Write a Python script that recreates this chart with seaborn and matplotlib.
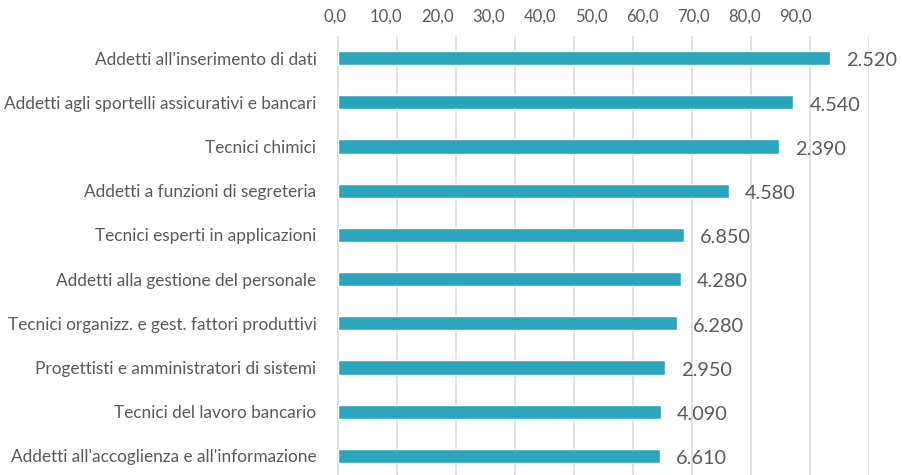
"""
Occupations ranked by share, horizontal bar chart with value labels.
"""

import matplotlib
matplotlib.use("Agg")
import matplotlib.pyplot as plt
import pandas as pd
import seaborn as sns

# -- Data ------------------------------------------------------------------
categories = [
    "Addetti all'inserimento di dati",
    "Addetti agli sportelli assicurativi e bancari",
    "Tecnici chimici",
    "Addetti a funzioni di segreteria",
    "Tecnici esperti in applicazioni",
    "Addetti alla gestione del personale",
    "Tecnici organizz. e gest. fattori produttivi",
    "Progettisti e amministratori di sistemi",
    "Tecnici del lavoro bancario",
    "Addetti all'accoglienza e all'informazione",
]
values = [83.4, 77.2, 74.7, 66.3, 58.7, 58.1, 57.5, 55.5, 54.7, 54.5]
bar_labels = ["2.520", "4.540", "2.390", "4.580", "6.850",
              "4.280", "6.280", "2.950", "4.090", "6.610"]
tick_values = list(range(0, 100, 10))

BAR = "#2CA5BC"
TEXT = "#595959"
GRID = "#D9D9D9"

sns.set_theme(style="white")
plt.rcParams["font.family"] = ["Lato", "DejaVu Sans"]
plt.rcParams["xtick.major.size"] = 0
plt.rcParams["ytick.major.size"] = 0

df = pd.DataFrame({"categoria": categories, "valore": values})

X0, X1 = -0.6, 90.0          # view limits, a bit left of 0 for the "0,0" label
PX_PER_UNIT = (869 - 338) / 90
left_px = 338 + X0 * PX_PER_UNIT
fig = plt.figure(figsize=(9.02, 4.75), dpi=100)
ax = fig.add_axes([left_px / 902, -3 / 475,
                   (869 - left_px) / 902, (478 - 36) / 475])

sns.barplot(data=df, y="categoria", x="valore", color=BAR, width=0.32,
            saturation=1, orient="h", ax=ax)

ax.set_xlim(X0, X1)
ax.set_ylim(9.5, -0.5)
ax.set_xticks(tick_values)
ax.tick_params(axis="x", bottom=False, labelbottom=False, top=False)
ax.tick_params(axis="y", left=False, labelsize=12.4, labelcolor=TEXT, pad=13)
ax.xaxis.grid(True, color=GRID, linewidth=1.1)
ax.set_axisbelow(True)
for s in ax.spines.values():
    s.set_visible(False)
ax.set_xlabel("")
ax.set_ylabel("")

# top labels are drawn on a slightly compressed scale, like in the source
sec = ax.secondary_xaxis("top", functions=(lambda x: (x + 0.51) / 0.868,
                                           lambda s: s * 0.868 - 0.51))
sec.set_xticks(tick_values)
sec.set_xticklabels([f"{v:.1f}".replace(".", ",") for v in tick_values])
sec.tick_params(axis="x", top=False, labelsize=12, labelcolor=TEXT, pad=8)
sec.spines["top"].set_visible(False)

for i, (v, lab) in enumerate(zip(values, bar_labels)):
    ax.annotate(lab, xy=(v, i), xytext=(11.5, -2), textcoords="offset points",
                va="center", ha="left", fontsize=14.3, color=TEXT)

fig.savefig("out.png", dpi=100)
